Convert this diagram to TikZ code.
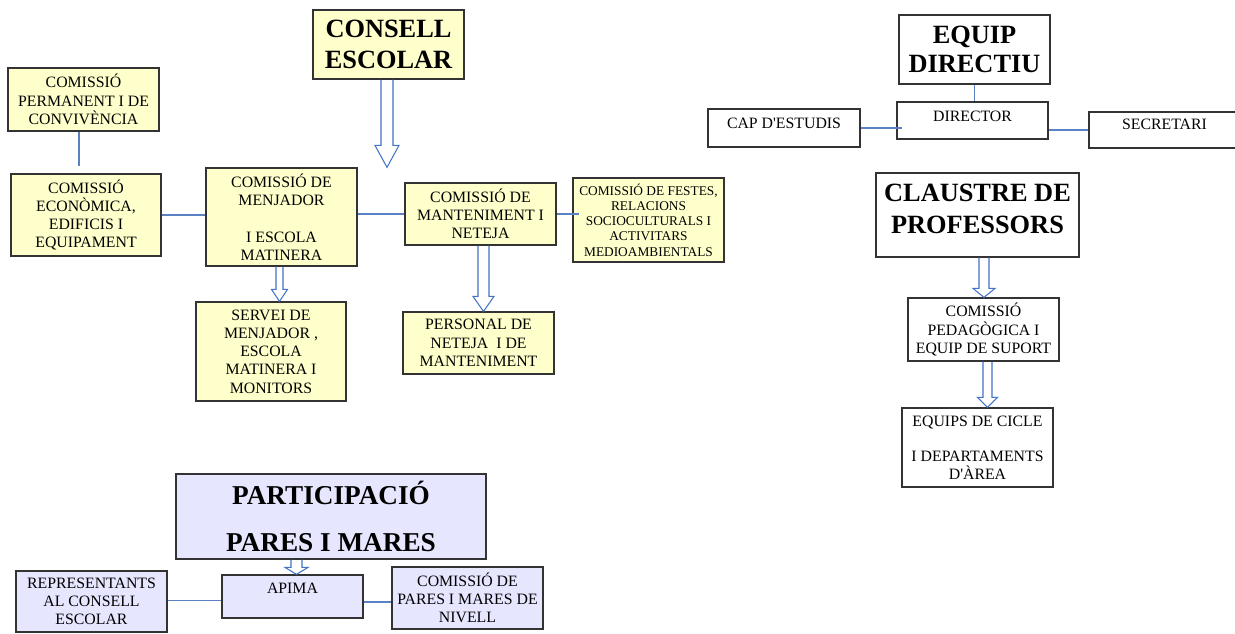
\documentclass[tikz,border=0pt]{standalone}
\usepackage{fontspec}
\setmainfont{Liberation Serif}
\usetikzlibrary{calc}
\definecolor{yellowfill}{HTML}{FFFFCC}
\definecolor{lilacfill}{HTML}{E6E6FF}
\definecolor{linkblue}{HTML}{5A82C2}
\definecolor{arrowblue}{HTML}{4472C4}
\def\blockarrow[#1](#2)(#3)(#4:#5:#6:#7){\draw[#1] ($(#4,0 |- #2.south)+(-#5,0)$) -- ($(#4,0 |- #3.north)+(-#5,-#7)$) -- ($(#4,0 |- #3.north)+(-#6,-#7)$) -- (#4,0 |- #3.north) -- ($(#4,0 |- #3.north)+(#6,-#7)$) -- ($(#4,0 |- #3.north)+(#5,-#7)$) -- ($(#4,0 |- #2.south)+(#5,0)$);}
\tikzset{
	box/.style={draw=black!80, line width=0.7pt, inner sep=0pt, align=center, font=\fontsize{9}{10.4}\selectfont},
	yellowbox/.style={box, fill=yellowfill},
	whitebox/.style={box, fill=white},
	lilacbox/.style={box, fill=lilacfill},
	title/.style={font=\fontsize{15}{17.3}\selectfont\bfseries},
	boxsize/.style 2 args={minimum width={#1*0.02cm}, minimum height={#2*0.02cm}},
	link/.style={draw=linkblue, line width=0.7pt},
	blockarrow/.style={draw=arrowblue, line width=0.6pt, line join=miter}
}
\begin{document}
\begin{tikzpicture}[x=0.02cm, y=-0.02cm]
			%%%%% START %%%%%
			
			\fill[white] (0,0) rectangle (1235,633);
			\useasboundingbox (0,0) rectangle (1235,633);
			
			% consell escolar
			\node[yellowbox, title, boxsize={151}{69}] (consell) at (388.5,44.5) {CONSELL\\ESCOLAR};
			\node[yellowbox, boxsize={151}{63}] (permanent) at (83.5,99.5) {COMISSIÓ\\PERMANENT I DE\\CONVIVÈNCIA};
			\node[yellowbox, boxsize={150}{82}] (economica) at (86,215) {COMISSIÓ\\ECONÒMICA,\\EDIFICIS I\\EQUIPAMENT};
			\node[yellowbox, boxsize={151}{98}] (menjador) at (281.5,217) {COMISSIÓ DE\\MENJADOR\\[10.4pt]I ESCOLA\\MATINERA};
			\node[yellowbox, boxsize={151}{62}] (manteniment) at (480.5,214) {COMISSIÓ DE\\MANTENIMENT I\\NETEJA};
			\node[yellowbox, font=\fontsize{7.6}{8.7}\selectfont, boxsize={151}{84}] (festes) at (648.5,220) {COMISSIÓ DE FESTES,\\RELACIONS\\SOCIOCULTURALS I\\ACTIVITARS\\MEDIOAMBIENTALS};
			\node[yellowbox, boxsize={150}{99}] (servei) at (271,351.5) {SERVEI DE\\MENJADOR ,\\ESCOLA\\MATINERA I\\MONITORS};
			\node[yellowbox, boxsize={151}{62}] (personal) at (478.5,343) {PERSONAL DE\\NETEJA\ \ I DE\\MANTENIMENT};
			
			% equip directiu
			\node[whitebox, title, font=\fontsize{15}{16.9}\selectfont\bfseries, boxsize={151}{69}] (equip) at (974.5,49.5) {EQUIP\\DIRECTIU};
			\node[whitebox, text depth=5.1pt, boxsize={151}{37}] (director) at (972.5,120.5) {DIRECTOR};
			\node[whitebox, text depth=5.7pt, boxsize={152}{38}] (capestudis) at (784,128) {CAP D\textquotesingle ESTUDIS};
			\node[whitebox, text depth=6.8pt, boxsize={151}{36}] (secretari) at (1164.5,130) {SECRETARI};
			
			% claustre
			\node[whitebox, title, font=\fontsize{15}{18}\selectfont\bfseries, text depth=6.8pt, boxsize={203}{84}] (claustre) at (977.5,215) {CLAUSTRE DE\\PROFESSORS};
			\node[whitebox, boxsize={151}{63}] (pedagogica) at (983.5,329.5) {COMISSIÓ\\PEDAGÒGICA I\\EQUIP DE SUPORT};
			\node[whitebox, font=\fontsize{9}{10}\selectfont, boxsize={151}{79}] (cicle) at (977.5,447.5) {EQUIPS DE CICLE\\[10pt]I DEPARTAMENTS\\D\textquotesingle ÀREA};
			
			% pares i mares
			\node[lilacbox, font=\fontsize{15.5}{18}\selectfont\bfseries, boxsize={310}{85}] (participacio) at (331,516.5) {PARTICIPACIÓ\\[8.7pt]PARES I MARES};
			\node[lilacbox, text depth=9.7pt, boxsize={141}{43}] (apima) at (292.5,596.5) {APIMA};
			\node[lilacbox, boxsize={151}{61}] (representants) at (91.5,601.5) {REPRESENTANTS\\AL CONSELL\\ESCOLAR};
			\node[lilacbox, boxsize={151}{62}] (parescom) at (467.5,598) {COMISSIÓ DE\\PARES I MARES DE\\NIVELL};
			
			% lines
			\draw[link] ($(permanent.south)+(-4.5,0)$) -- ++(0,34);
			\draw[link] (economica.east) -- (economica.east -| menjador.west);
			\draw[link] (manteniment.west -| menjador.east) -- (manteniment.west);
			\draw[link] (manteniment.east) -- ($(manteniment.east -| festes.west)+(7,0)$);
			\draw[link] (capestudis.east) -- ($(capestudis.east -| director.west)+(6,0)$);
			\draw[link] (secretari.west -| director.east) -- (secretari.west);
			\draw[link] (equip.south) -- (equip.south |- director.north);
			\draw[link] ($(representants.east)+(0,-1)$) coordinate (repout) -- (repout -| apima.west);
			\draw[link] ($(apima.east)+(0,5.5)$) coordinate (apimaout) -- (apimaout -| parescom.west);
			
			% arrows
			\blockarrow[blockarrow](consell)(menjador)(387:6:12:22)
			\blockarrow[blockarrow](menjador)(servei)(279.5:3.5:8:12)
			\blockarrow[blockarrow](manteniment)(personal)(483.5:5.5:10.5:15)
			\blockarrow[blockarrow](claustre)(pedagogica)(984:5:11:9)
			\blockarrow[blockarrow](pedagogica)(cicle)(987.5:4.5:10:10)
			\blockarrow[blockarrow](participacio)(apima)(296.5:5.5:11.5:7)
			
			%%%%% END %%%%%
\end{tikzpicture}
\end{document}
